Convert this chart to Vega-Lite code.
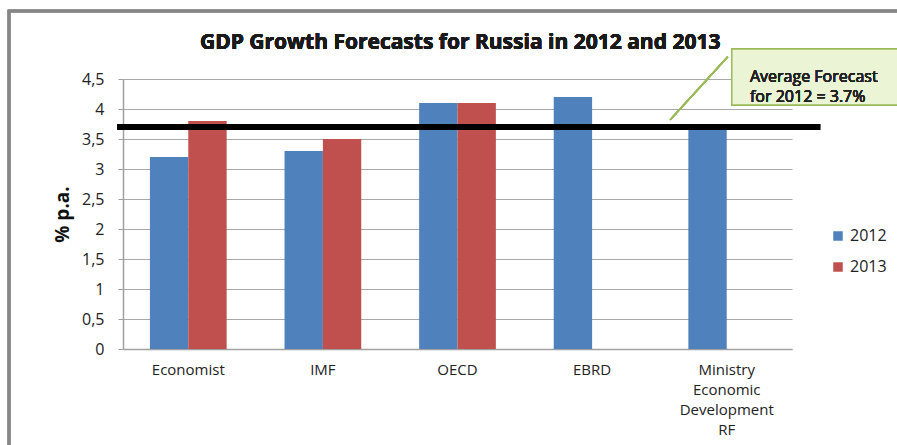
{
  "$schema": "https://vega.github.io/schema/vega-lite/v6.json",
  "autosize": "none",
  "width": 669,
  "height": 270,
  "padding": {"left": 123, "top": 79, "right": 105, "bottom": 96},
  "background": "white",
  "config": {"view": {"stroke": null}, "font": "Open Sans"},
  "data": {"values": [
    {"Source": "Economist", "Year": "2012", "Value": 3.2},
    {"Source": "Economist", "Year": "2013", "Value": 3.8},
    {"Source": "IMF", "Year": "2012", "Value": 3.3},
    {"Source": "IMF", "Year": "2013", "Value": 3.5},
    {"Source": "OECD", "Year": "2012", "Value": 4.1},
    {"Source": "OECD", "Year": "2013", "Value": 4.1},
    {"Source": "EBRD", "Year": "2012", "Value": 4.2},
    {"Source": "Ministry Economic Development RF", "Year": "2012", "Value": 3.7}
  ]},
  "resolve": {"scale": {"x": "independent", "y": "independent"}, "axis": {"x": "independent", "y": "independent"}},
  "layer": [
    {
      "mark": {"type": "bar"},
      "encoding": {
        "x": {"field": "Source", "type": "nominal", "sort": null,
          "scale": {"paddingInner": 0.43, "paddingOuter": 0.2},
          "axis": {"title": null, "labelAngle": 0, "ticks": false, "labelPadding": 13, "labelFont": "Open Sans", "labelFontSize": 15, "labelColor": "#222", "domainColor": "#a0a0a0", "domainWidth": 1.5, "labelLineHeight": 20,
            "labelExpr": "datum.label == 'Ministry Economic Development RF' ? ['Ministry','Economic','Development','RF'] : datum.label"}},
        "xOffset": {"field": "Year", "type": "nominal"},
        "y": {"field": "Value", "type": "quantitative",
          "scale": {"domain": [0, 4.5], "nice": false},
          "axis": {"title": "% p.a.", "titleFont": "Open Sans", "titleFontSize": 19, "titleFontWeight": "bold", "titleColor": "#111", "titlePadding": 9,
            "values": [0, 0.5, 1, 1.5, 2, 2.5, 3, 3.5, 4, 4.5],
            "labelExpr": "replace(format(datum.value, ''), '.', ',')",
            "labelFont": "Open Sans", "labelFontSize": 16, "labelColor": "#222", "labelPadding": 14, "tickSize": 5, "tickColor": "#a0a0a0",
            "gridColor": "#a8a8a8", "gridWidth": 1.2, "domainColor": "#a0a0a0", "domainWidth": 1.5}},
        "color": {"field": "Year", "type": "nominal",
          "scale": {"domain": ["2012", "2013"], "range": ["#4f81bd", "#c0504d"]},
          "legend": {"title": null, "orient": "none", "legendX": 707, "legendY": 149, "symbolType": "square", "symbolSize": 90, "labelFont": "Open Sans", "labelFontSize": 16, "labelColor": "#222", "rowPadding": 15, "symbolStrokeWidth": 0}}
      }
    },
    {
      "mark": {"type": "rect", "fill": null, "stroke": "#868686", "strokeWidth": 2.5, "clip": false},
      "encoding": {
        "x": {"datum": -0.852, "type": "quantitative", "scale": {"domain": [0, 5], "nice": false, "zero": false}, "axis": null},
        "x2": {"datum": 6.5},
        "y": {"datum": 5.633, "type": "quantitative", "scale": {"domain": [0, 4.5], "nice": false}, "axis": null},
        "y2": {"datum": -2.5}
      }
    },
    {
      "mark": {"type": "text", "text": "GDP Growth Forecasts for Russia in 2012 and 2013", "align": "center", "baseline": "middle", "font": "Open Sans", "fontSize": 21, "fontWeight": "bold", "color": "#1a1a1a"},
      "encoding": {
        "x": {"datum": 2.52, "type": "quantitative", "scale": {"domain": [0, 5], "nice": false, "zero": false}, "axis": null},
        "y": {"datum": 5.1, "type": "quantitative", "scale": {"domain": [0, 4.5], "nice": false}, "axis": null}
      }
    },
    {
      "mark": {"type": "rule", "color": "#9bbb59", "strokeWidth": 1.5},
      "encoding": {
        "x": {"datum": 4.09, "type": "quantitative", "scale": {"domain": [0, 5], "nice": false, "zero": false}, "axis": null},
        "x2": {"datum": 4.52},
        "y": {"datum": 3.82, "type": "quantitative", "scale": {"domain": [0, 4.5], "nice": false}, "axis": null},
        "y2": {"datum": 4.87}
      }
    },
    {
      "mark": {"type": "rule", "color": "#000000", "strokeWidth": 6},
      "encoding": {
        "x": {"datum": -0.04, "type": "quantitative", "scale": {"domain": [0, 5], "nice": false, "zero": false}, "axis": null},
        "x2": {"datum": 5.21},
        "y": {"datum": 3.7, "type": "quantitative", "scale": {"domain": [0, 4.5], "nice": false}, "axis": null}
      }
    },
    {
      "mark": {"type": "rect", "fill": "#ebf5d5", "stroke": "#9bbb59", "strokeWidth": 1.5},
      "encoding": {
        "x": {"datum": 4.55, "type": "quantitative", "scale": {"domain": [0, 5], "nice": false, "zero": false}, "axis": null},
        "x2": {"datum": 6.2},
        "y": {"datum": 5.0, "type": "quantitative", "scale": {"domain": [0, 4.5], "nice": false}, "axis": null},
        "y2": {"datum": 4.067}
      }
    },
    {
      "mark": {"type": "text", "text": ["Average Forecast", "for 2012 = 3.7%"], "align": "left", "baseline": "middle", "font": "Open Sans", "fontSize": 16, "fontWeight": "normal", "lineHeight": 20, "color": "#222"},
      "encoding": {
        "x": {"datum": 4.686, "type": "quantitative", "scale": {"domain": [0, 5], "nice": false, "zero": false}, "axis": null},
        "y": {"datum": 4.53, "type": "quantitative", "scale": {"domain": [0, 4.5], "nice": false}, "axis": null}
      }
    }
  ]
}
